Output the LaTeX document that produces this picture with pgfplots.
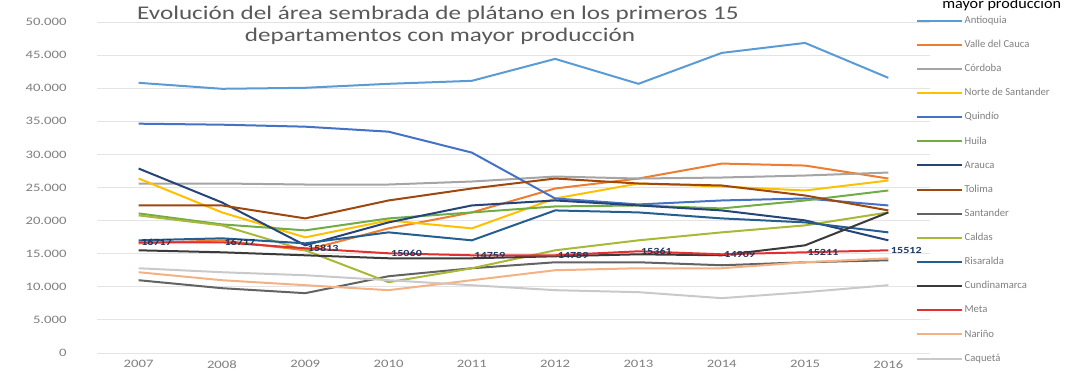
\documentclass[border=0pt]{standalone}
\usepackage{fontspec}
\setmainfont{Carlito}
\usepackage{pgfplots}
\pgfplotsset{compat=1.18}
\definecolor{c1}{HTML}{5B9BD5}
\definecolor{c2}{HTML}{ED7D31}
\definecolor{c3}{HTML}{A5A5A5}
\definecolor{c4}{HTML}{FFC000}
\definecolor{c5}{HTML}{4472C4}
\definecolor{c6}{HTML}{70AD47}
\definecolor{c7}{HTML}{264478}
\definecolor{c8}{HTML}{9E480E}
\definecolor{c9}{HTML}{636363}
\definecolor{c10}{HTML}{A9B836}
\definecolor{c11}{HTML}{255E91}
\definecolor{c12}{HTML}{3A3A3A}
\definecolor{c13}{HTML}{E03030}
\definecolor{c14}{HTML}{F4B183}
\definecolor{c15}{HTML}{C9C9C9}
\definecolor{txt}{HTML}{595959}
\definecolor{lab}{HTML}{7F7F7F}
\definecolor{gridc}{HTML}{E4E4E4}
\begin{document}
\begin{tikzpicture}[x=0.75pt,y=0.75pt]
\begin{axis}[
  at={(72.75pt,15pt)}, anchor=south west,
  scale only axis, width=624.75pt, height=248.25pt,
  xmin=2006.5, xmax=2016.5, ymin=0, ymax=50000,
  scaled y ticks=false,
  xtick={2007,2008,2009,2010,2011,2012,2013,2014,2015,2016},
  xticklabels={2007,2008,2009,2010,2011,2012,2013,2014,2015,2016},
  ytick={0,5000,10000,15000,20000,25000,30000,35000,40000,45000,50000},
  yticklabels={0,5.000,10.000,15.000,20.000,25.000,30.000,35.000,40.000,45.000,50.000},
  ymajorgrids, grid style={gridc, line width=0.6pt},
  axis line style={draw=none},
  major tick length=0pt,
  tick label style={font=\fontsize{8.5}{8.5}\selectfont, text=lab, xscale=1.3},
  yticklabel style={xshift=-14pt},
  xticklabel style={yshift=-2pt},
  every axis plot/.append style={line width=1.5pt},
  legend style={at={(0.978,1.033)}, anchor=north west, draw=none, fill=none,
     font=\fontsize{8}{9}\selectfont, text=lab,
     nodes={inner sep=1pt, text height=6pt, text depth=2pt},
     row sep=8.1pt},
  legend cell align=left,
  legend image code/.code={\draw[#1] (0pt,0pt) -- (34pt,0pt);},
  clip=false,
]
% 1 Antioquia
\addplot[c1] coordinates {(2007,40813)(2008,39909)(2009,40060)(2010,40662)(2011,41114)(2012,44427)(2013,40662)(2014,45331)(2015,46837)(2016,41566)};
\addlegendentry{Antioquia}
% 2
\addplot[c2] coordinates {(2007,16566)(2008,17018)(2009,15512)(2010,18825)(2011,21235)(2012,24849)(2013,26355)(2014,28614)(2015,28313)(2016,26355)};
\addlegendentry{Valle del Cauca}
% 3
\addplot[c3] coordinates {(2007,25602)(2008,25602)(2009,25451)(2010,25451)(2011,25903)(2012,26656)(2013,26355)(2014,26506)(2015,26807)(2016,27259)};
\addlegendentry{Córdoba}
% 4
\addplot[c4] coordinates {(2007,26355)(2008,21235)(2009,17470)(2010,20030)(2011,18825)(2012,23343)(2013,25602)(2014,25150)(2015,24548)(2016,26054)};
\addlegendentry{Norte de Santander}
% 5
\addplot[c5] coordinates {(2007,34638)(2008,34487)(2009,34186)(2010,33433)(2011,30271)(2012,23343)(2013,22439)(2014,23042)(2015,23343)(2016,22289)};
\addlegendentry{Quindío}
% 6
\addplot[c6] coordinates {(2007,21084)(2008,19427)(2009,18524)(2010,20331)(2011,21235)(2012,22138)(2013,22289)(2014,21837)(2015,23042)(2016,24548)};
\addlegendentry{Huila}
% 7
\addplot[c7] coordinates {(2007,27861)(2008,22741)(2009,16265)(2010,19729)(2011,22289)(2012,23042)(2013,22289)(2014,21536)(2015,20030)(2016,17018)};
\addlegendentry{Arauca}
% 8
\addplot[c8] coordinates {(2007,22289)(2008,22289)(2009,20331)(2010,23042)(2011,24849)(2012,26355)(2013,25602)(2014,25301)(2015,23795)(2016,21536)};
\addlegendentry{Tolima}
% 9
\addplot[c9] coordinates {(2007,10994)(2008,9789)(2009,9036)(2010,11596)(2011,12801)(2012,13705)(2013,13705)(2014,13253)(2015,13705)(2016,14006)};
\addlegendentry{Santander}
% 10
\addplot[c10] coordinates {(2007,20783)(2008,19277)(2009,15512)(2010,10693)(2011,12801)(2012,15512)(2013,17018)(2014,18223)(2015,19277)(2016,21235)};
\addlegendentry{Caldas}
% 11
\addplot[c11] coordinates {(2007,17018)(2008,17319)(2009,16566)(2010,18223)(2011,17018)(2012,21536)(2013,21235)(2014,20331)(2015,19729)(2016,18223)};
\addlegendentry{Risaralda}
% 12
\addplot[c12] coordinates {(2007,15512)(2008,15211)(2009,14759)(2010,14307)(2011,14307)(2012,14608)(2013,14909)(2014,14759)(2015,16265)(2016,21235)};
\addlegendentry{Cundinamarca}
% 13 with data labels
\addplot[c13, nodes near coords, point meta=explicit symbolic,
   every node near coord/.style={anchor=west, xshift=1pt, inner sep=0pt,
     font=\fontsize{7}{7}\selectfont\bfseries, text=c7!80!black, xscale=1.3}]
 coordinates {(2007,16717)[16717](2008,16717)[16717](2009,15813)[15813](2010,15060)[15060](2011,14759)[14759](2012,14759)[14759](2013,15361)[15361](2014,14909)[14909](2015,15211)[15211](2016,15512)[15512]};
\addlegendentry{Meta}
% 14
\addplot[c14] coordinates {(2007,12199)(2008,10994)(2009,10241)(2010,9488)(2011,10994)(2012,12500)(2013,12801)(2014,12801)(2015,13705)(2016,14307)};
\addlegendentry{Nariño}
% 15
\addplot[c15] coordinates {(2007,12801)(2008,12199)(2009,11747)(2010,10994)(2011,10241)(2012,9488)(2013,9187)(2014,8283)(2015,9187)(2016,10241)};
\addlegendentry{Caquetá}
\end{axis}
\node[font=\fontsize{14.5}{14.5}\selectfont, text=txt, xscale=1.3] at (438,359) {Evolución del área sembrada de plátano en los primeros 15};
\node[font=\fontsize{14.5}{14.5}\selectfont, text=txt, xscale=1.3] at (440,337) {departamentos con mayor producción};
\node[anchor=base west, inner sep=0pt, font=\fontsize{11}{11}\selectfont, text=black, xscale=1.1] at (942,364) {mayor producción};
\pgfresetboundingbox
\useasboundingbox (0,0) rectangle (1067,373);
\end{tikzpicture}
\end{document}
